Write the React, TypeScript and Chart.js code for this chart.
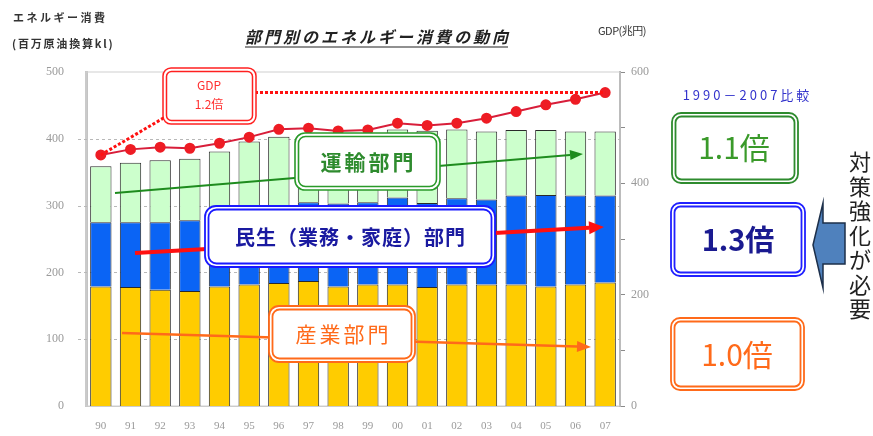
import React, { useEffect, useRef } from 'react';
import { Chart, registerables } from 'chart.js';
Chart.register(...registerables);

const years = ['90', '91', '92', '93', '94', '95', '96', '97', '98', '99', '00', '01', '02', '03', '04', '05', '06', '07'];
const industry = [179, 178, 174, 172, 179, 182, 184, 187, 179, 182, 182, 178, 182, 182, 182, 179, 182, 185];
const residential = [96, 97, 101, 106, 106, 110, 113, 118, 124, 123, 130, 126, 129, 127, 133, 137, 133, 130];
const transport = [84, 89, 93, 92, 96, 104, 106, 101, 99, 103, 102, 108, 103, 102, 98, 97, 96, 96];
const gdp = [451, 461, 465, 463, 472, 483, 497, 499, 494, 496, 508, 504, 508, 517, 529, 541, 551, 563];

const leftMax = 500;
const rightMax = 600;
const gridValues = [100, 200, 300, 400];

const JP = '"Noto Sans CJK JP", "Noto Sans", sans-serif';
const SERIF = '"Liberation Serif", "DejaVu Serif", serif';

function txt(ctx: any, s: string, x: number, y: number, font: string, color: string, spacing = 0, align: any = 'center') {
  ctx.save();
  ctx.font = font;
  ctx.fillStyle = color;
  ctx.textAlign = align;
  ctx.textBaseline = 'middle';
  ctx.letterSpacing = spacing + 'px';
  const dx = align === 'center' ? spacing / 2 : 0;
  ctx.fillText(s, x + dx, y);
  ctx.restore();
}

function doubleBox(ctx: any, x: number, y: number, w: number, h: number, color: string, r = 9, lw = 1.6) {
  ctx.save();
  ctx.fillStyle = '#ffffff';
  ctx.beginPath();
  ctx.roundRect(x, y, w, h, r);
  ctx.fill();
  ctx.strokeStyle = color;
  ctx.lineWidth = lw;
  ctx.beginPath();
  ctx.roundRect(x, y, w, h, r);
  ctx.stroke();
  ctx.beginPath();
  ctx.roundRect(x + 3.5, y + 3.5, w - 7, h - 7, Math.max(r - 3, 2));
  ctx.stroke();
  ctx.restore();
}

function arrow(ctx: any, x1: number, y1: number, x2: number, y2: number, color: string, lw: number, hl: number, hw: number) {
  const ang = Math.atan2(y2 - y1, x2 - x1);
  const bx = x2 - hl * Math.cos(ang);
  const by = y2 - hl * Math.sin(ang);
  ctx.save();
  ctx.strokeStyle = color;
  ctx.fillStyle = color;
  ctx.lineWidth = lw;
  ctx.beginPath();
  ctx.moveTo(x1, y1);
  ctx.lineTo(bx, by);
  ctx.stroke();
  ctx.beginPath();
  ctx.moveTo(x2, y2);
  ctx.lineTo(bx + (hw / 2) * Math.sin(ang), by - (hw / 2) * Math.cos(ang));
  ctx.lineTo(bx - (hw / 2) * Math.sin(ang), by + (hw / 2) * Math.cos(ang));
  ctx.closePath();
  ctx.fill();
  ctx.restore();
}

const annotPlugin = {
  id: 'annot',
  beforeDatasetsDraw(chart: any) {
    const { ctx, chartArea: a } = chart;
    const ys = chart.scales.y;
    ctx.save();
    ctx.strokeStyle = '#d0d0d0';
    ctx.lineWidth = 1;
    ctx.strokeRect(a.left, a.top, a.right - a.left, a.bottom - a.top);
    ctx.strokeStyle = '#b8b8b8';
    ctx.setLineDash([3, 3]);
    for (const v of gridValues) {
      const py = Math.round(ys.getPixelForValue(v)) + 0.5;
      ctx.beginPath();
      ctx.moveTo(a.left - 8, py);
      ctx.lineTo(a.right, py);
      ctx.stroke();
    }
    ctx.restore();
  },
  afterDraw(chart: any) {
    const { ctx } = chart;
    const xs = chart.scales.x;
    const y2 = chart.scales.y2;
    const last = years.length - 1;

    // header texts
    txt(ctx, 'エネルギー消費', 13, 18, `bold 11px ${JP}`, '#333', 2.5, 'left');
    txt(ctx, '(百万原油換算kl)', 12, 44, `bold 11px ${JP}`, '#333', 1.8, 'left');
    txt(ctx, 'GDP(兆円)', 598, 31, `11px ${JP}`, '#333', -0.5, 'left');

    // title
    ctx.save();
    ctx.font = `italic bold 16px ${JP}`;
    ctx.letterSpacing = '3px';
    ctx.fillStyle = '#222';
    ctx.textAlign = 'left';
    ctx.textBaseline = 'middle';
    const title = '部門別のエネルギー消費の動向';
    const tw = ctx.measureText(title).width;
    const tx = 378 - tw / 2;
    ctx.fillText(title, tx, 37);
    ctx.strokeStyle = '#222';
    ctx.lineWidth = 1.2;
    ctx.beginPath();
    ctx.moveTo(tx, 47);
    ctx.lineTo(tx + tw - 3, 47);
    ctx.stroke();
    ctx.restore();

    // GDP dotted lines
    const gx0 = xs.getPixelForValue(0);
    const gy0 = y2.getPixelForValue(gdp[0]);
    const gxN = xs.getPixelForValue(last);
    const gyN = y2.getPixelForValue(gdp[last]);
    ctx.save();
    ctx.strokeStyle = '#ff1010';
    ctx.lineWidth = 3;
    ctx.setLineDash([3, 2]);
    ctx.beginPath();
    ctx.moveTo(250, gyN);
    ctx.lineTo(gxN, gyN);
    ctx.stroke();
    ctx.beginPath();
    ctx.moveTo(gx0, gy0);
    ctx.lineTo(172, 113);
    ctx.stroke();
    ctx.restore();
    doubleBox(ctx, 163, 68, 93, 56, '#ff2020', 8, 1.5);
    txt(ctx, 'GDP', 209, 85, `12px ${JP}`, '#ff3030');
    txt(ctx, '1.2倍', 209, 104, `12px ${JP}`, '#ff3030');

    // transport
    arrow(ctx, 115, 193, 583, 154, '#1e8c1e', 2, 13, 10);
    doubleBox(ctx, 295, 133, 145, 57, '#2a9a2a', 10, 1.6);
    txt(ctx, '運輸部門', 367, 162, `bold 21px ${JP}`, '#2e8b2e', 3);

    // residential
    arrow(ctx, 135, 253, 604, 227, '#ff1010', 4, 15, 13);
    doubleBox(ctx, 205, 206, 290, 61, '#1a1aff', 11, 1.8);
    txt(ctx, '民生（業務・家庭）部門', 350, 237, `bold 20px ${JP}`, '#1a1aa0', 1);

    // industry
    arrow(ctx, 122, 333, 591, 347, '#ff6a1a', 2.5, 14, 11);
    doubleBox(ctx, 269, 306, 146, 56, '#ff6a1a', 10, 1.8);
    txt(ctx, '産業部門', 342, 334, `21px ${JP}`, '#ff6a1a', 3);

    // right side comparison
    txt(ctx, '1990－2007比較', 746, 95, `13px ${JP}`, '#3333cc', 3);
    doubleBox(ctx, 672, 113, 126, 70, '#2e8b2e', 9, 1.8);
    txt(ctx, '1.1倍', 734, 148, `30px ${JP}`, '#3a9a2a');
    doubleBox(ctx, 671, 203, 134, 73, '#2020ff', 9, 1.8);
    txt(ctx, '1.3倍', 738, 240, `bold 29px ${JP}`, '#1a1a90');
    doubleBox(ctx, 671, 318, 133, 72, '#ff6a1a', 9, 1.8);
    txt(ctx, '1.0倍', 737, 355, `30px ${JP}`, '#ff6a1a');

    // block arrow
    ctx.save();
    ctx.fillStyle = '#4f81bd';
    ctx.strokeStyle = '#1c2f4a';
    ctx.lineWidth = 1.5;
    ctx.beginPath();
    ctx.moveTo(813, 245);
    ctx.lineTo(823, 203);
    ctx.lineTo(823, 223);
    ctx.lineTo(845, 223);
    ctx.lineTo(845, 264);
    ctx.lineTo(823, 264);
    ctx.lineTo(823, 288);
    ctx.closePath();
    ctx.fill();
    ctx.stroke();
    ctx.restore();

    // vertical text
    const vt = '対策強化が必要';
    for (let i = 0; i < vt.length; i++) {
      txt(ctx, vt[i], 860, 162 + i * 24.5, `22px ${JP}`, '#222');
    }
  },
};

export default function App() {
  const ref = useRef<HTMLCanvasElement>(null);
  useEffect(() => {
    if (!ref.current) return;
    const barCommon = {
      borderColor: '#2a2a2a',
      borderWidth: 1,
      barPercentage: 0.72,
      categoryPercentage: 1,
      yAxisID: 'y',
      stack: 'e',
      order: 1,
    };
    const chart = new Chart(ref.current, {
      type: 'bar',
      data: {
        labels: years,
        datasets: [
          { ...barCommon, label: '産業部門', data: industry, backgroundColor: '#ffcc00' } as any,
          { ...barCommon, label: '民生部門', data: residential, backgroundColor: '#0a64f5' } as any,
          { ...barCommon, label: '運輸部門', data: transport, backgroundColor: '#ccffcc' } as any,
          {
            type: 'line',
            label: 'GDP',
            data: gdp,
            yAxisID: 'y2',
            order: 0,
            borderColor: '#d81e3a',
            borderWidth: 2,
            pointRadius: 4.5,
            pointBackgroundColor: '#ee1c24',
            pointBorderColor: '#ee1c24',
            tension: 0,
          } as any,
        ],
      },
      options: {
        animation: false,
        responsive: false,
        devicePixelRatio: 1,
        layout: { padding: { top: 72, left: 0, right: 0, bottom: 0 } },
        plugins: { legend: { display: false }, tooltip: { enabled: false }, title: { display: false } },
        scales: {
          x: {
            stacked: true,
            grid: { display: false },
            border: { display: true, color: '#c8c8c8', width: 1 },
            ticks: { color: '#9a9a9a', font: { family: SERIF, size: 11 }, padding: 6, maxRotation: 0 },
            afterFit: (s: any) => { s.width = s.width; s.height = 30; },
          },
          y: {
            stacked: true,
            min: 0,
            max: leftMax,
            ticks: { stepSize: 100, color: '#9a9a9a', font: { family: SERIF, size: 12 }, padding: 14 },
            grid: { display: false },
            border: { display: true, color: '#c4c4c4', width: 3 },
            afterFit: (s: any) => { s.width = 86; },
          } as any,
          y2: {
            position: 'right',
            min: 0,
            max: rightMax,
            ticks: {
              stepSize: 100,
              color: '#9a9a9a',
              font: { family: SERIF, size: 12 },
              padding: 6,
              callback: (v: any) => (v % 200 === 0 ? String(v) : ''),
            },
            grid: { drawOnChartArea: false, color: '#8a8a8a', tickLength: 5 },
            border: { display: true, color: '#a8a8a8', width: 2 },
            afterFit: (s: any) => { s.width = 253; },
          } as any,
        },
      },
      plugins: [annotPlugin],
    } as any);
    return () => chart.destroy();
  }, []);
  return (
    <div style={{ position: 'fixed', left: 0, top: 0, width: 873, height: 436, background: '#fff' }}>
      <canvas ref={ref} width={873} height={436} style={{ display: 'block', width: 873, height: 436 }} />
    </div>
  );
}
